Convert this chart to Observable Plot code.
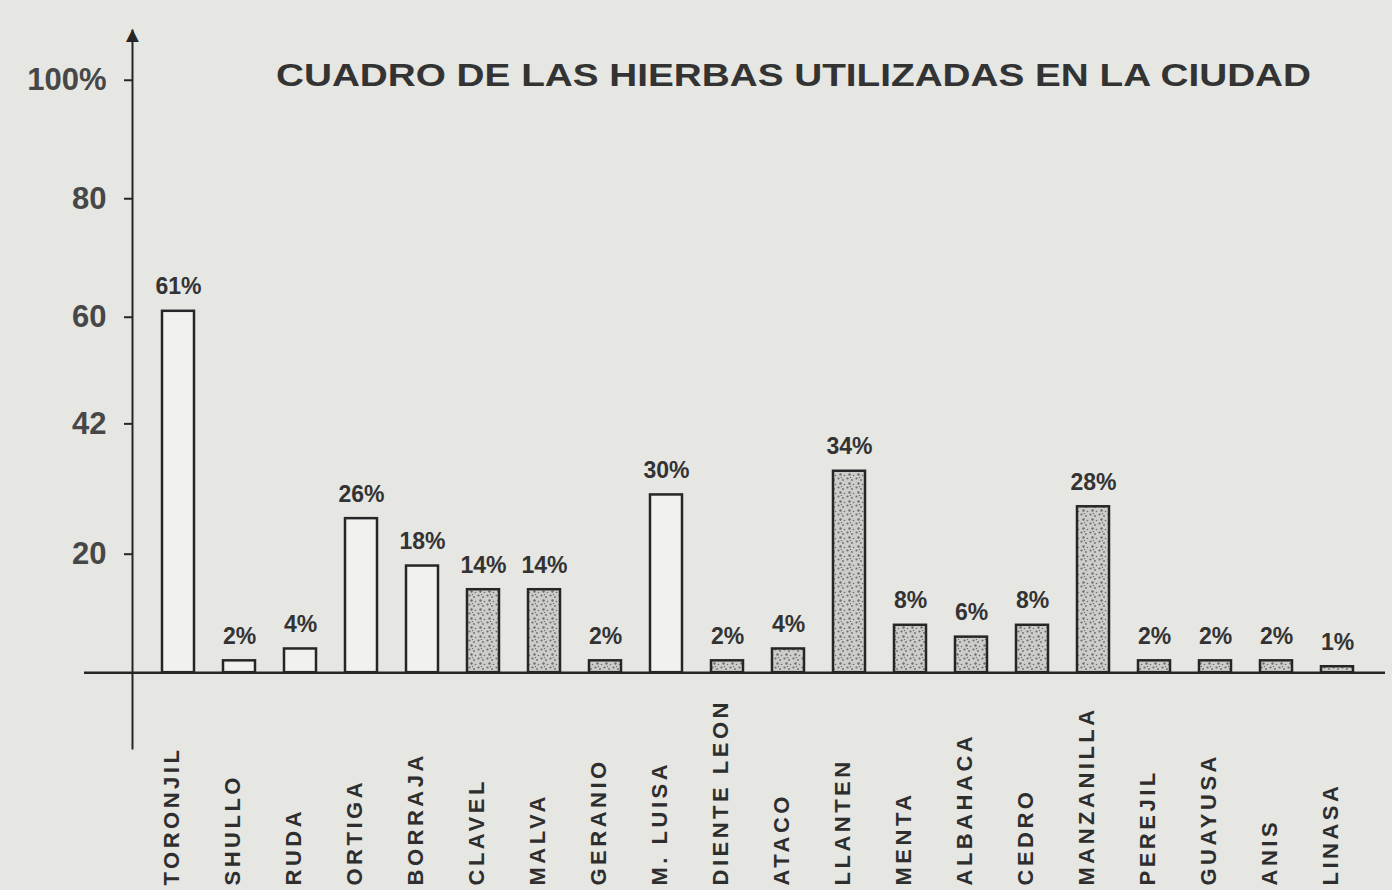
<!DOCTYPE html>
<html><head><meta charset="utf-8">
<script src="https://cdn.jsdelivr.net/npm/d3@7"></script>
<script src="https://cdn.jsdelivr.net/npm/@observablehq/plot@0.6"></script>
<style>
html,body{margin:0;padding:0;background:#e6e6e3;}
#chart{position:relative;width:1392px;height:890px;overflow:hidden;}
</style></head><body><div id="chart"></div>
<script>
const herbs = ["TORONJIL","SHULLO","RUDA","ORTIGA","BORRAJA","CLAVEL","MALVA","GERANIO","M. LUISA","DIENTE LEON","ATACO","LLANTEN","MENTA","ALBAHACA","CEDRO","MANZANILLA","PEREJIL","GUAYUSA","ANIS","LINASA"];
const percents = [61,2,4,26,18,14,14,2,30,2,4,34,8,6,8,28,2,2,2,1];
const yTicks = [20,42,60,80,100];
const titleText = "CUADRO DE LAS HIERBAS UTILIZADAS EN LA CIUDAD";
const stippledHerbs = ["CLAVEL","MALVA","GERANIO","DIENTE LEON","ATACO","LLANTEN","MENTA","ALBAHACA","CEDRO","MANZANILLA","PEREJIL","GUAYUSA","ANIS","LINASA"];

const data = herbs.map((h, i) => ({herb: h, pct: percents[i]}));
const ink = "#262626";

const plot = Plot.plot({
  width: 1392, height: 890,
  marginTop: 30, marginBottom: 142, marginLeft: 132, marginRight: 10,
  style: {background: "transparent", color: ink, fontFamily: "'Liberation Sans', Arial, sans-serif"},
  x: {domain: herbs, padding: 0.48, axis: null},
  y: {domain: [-12.8, 108.4], axis: null},
  marks: [
    Plot.frame({anchor: "left", stroke: ink, strokeWidth: 2}),
    Plot.text(["▲"], {frameAnchor: "top-left", textAnchor: "middle", lineAnchor: "top", fontSize: 22, dy: -4, fill: ink}),
    Plot.axisY(yTicks, {label: null, tickFormat: d => d === 100 ? "100%" : String(d), fontSize: 31, fontWeight: "bold", tickSize: 8, tickPadding: 18, fill: "#474747", stroke: ink, strokeWidth: 2}),
    Plot.barY(data, {x: "herb", y: "pct", fill: "#f1f1ee", stroke: ink, strokeWidth: 2.5}),
    Plot.ruleY([0], {insetLeft: -48, insetRight: -3, stroke: ink, strokeWidth: 2.5}),
    Plot.text(data, {x: "herb", y: "pct", text: d => d.pct + "%", dy: -17, lineAnchor: "bottom", fontSize: 23, fontWeight: "bold", fill: "#333"}),
    Plot.text(data, {x: "herb", text: "herb", frameAnchor: "bottom", rotate: -90, textAnchor: "start", dy: 137, fontSize: 22, fontWeight: "bold", fill: "#2e2e2e", ariaDescription: "herb-labels"}),
    Plot.text([titleText], {frameAnchor: "top", dx: 36, dy: 46, lineAnchor: "middle", fontSize: 31, fontWeight: "bold", fill: "#333", ariaDescription: "chart-title"})
  ]
});

document.getElementById("chart").appendChild(plot);
const svg = d3.select(plot);
// stipple pattern for shaded bars
const defs = svg.insert("defs", ":first-child");
const pat = defs.append("pattern").attr("id", "stipple").attr("width", 9).attr("height", 9).attr("patternUnits", "userSpaceOnUse");
pat.append("rect").attr("width", 9).attr("height", 9).attr("fill", "#cdcdca");
[[1.5,1.5,1.1],[6,3,0.9],[3.5,6.5,1.2],[7.5,7.5,0.8],[4.5,0.5,0.7]].forEach(([cx, cy, r]) =>
  pat.append("circle").attr("cx", cx).attr("cy", cy).attr("r", r).attr("fill", "#6e6e6c"));
svg.selectAll('g[aria-label="bar"] rect').attr("fill", (_, i) => stippledHerbs.includes(herbs[i]) ? "url(#stipple)" : null);
svg.select('g[aria-description="herb-labels"]').attr("letter-spacing", 3.5);
svg.select('g[aria-description="chart-title"] text').attr("textLength", 1035).attr("lengthAdjust", "spacingAndGlyphs");
</script>
</body></html>
